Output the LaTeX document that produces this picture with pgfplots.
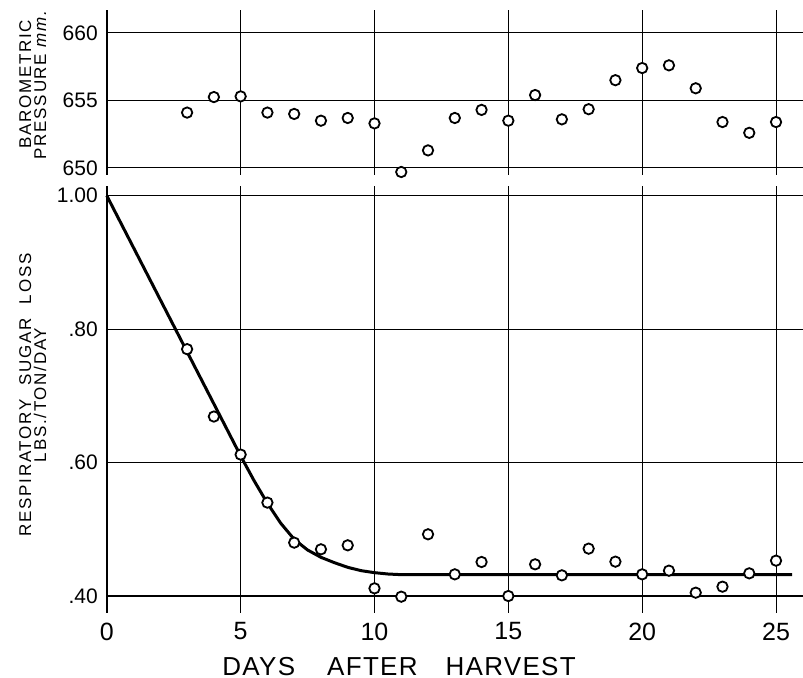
\documentclass[border=0pt]{standalone}
\usepackage{fontspec}
\setmainfont{Liberation Sans}
\newfontfamily\spaced[LetterSpace=10]{Liberation Sans}
\newfontfamily\wide[LetterSpace=5]{Liberation Sans}
\usepackage{pgfplots}
\pgfplotsset{compat=1.18}

\pgfplotsset{
  panel/.style={
    scale only axis, width=348pt, xmin=0, xmax=26,
    axis line style={draw=none},
    major tick length=0pt,
    grid=major,
    major grid style={black, line width=0.5pt},
    clip=false,
    /pgf/number format/assume math mode=true,
    yticklabel style={font=\fontsize{10.5}{11}\selectfont, xshift=-1pt},
    xticklabel style={font=\fontsize{12.5}{13}\selectfont, yshift=-1.5pt},
  },
  circ/.style={only marks, mark=*, mark size=2.6pt,
    mark options={draw=black, fill=white, line width=0.9pt}},
}

\begin{document}
\begin{tikzpicture}
\useasboundingbox (-53.4pt,-32.65pt) rectangle (348.1pt,306.35pt);

% barometric pressure
\begin{axis}[panel, at={(0,219pt)}, anchor=south west, height=82.35pt,
  ymin=649.5, ymax=661.7,
  xtick={5,10,15,20,25}, xticklabels={},
  ytick={650,655,660}, yticklabels={650,655,660},
  ylabel={BAROMETRIC\\PRESSURE \textit{mm.}},
  ylabel style={at={(rel axis cs:0,0.55)}, anchor=center, yshift=37pt,
    align=center, font=\spaced\fontsize{8.5}{7.5}\selectfont},
]
\draw[black, line width=0.8pt] (rel axis cs:0,0) -- (rel axis cs:0,1);
\addplot[circ] coordinates {
  (3,654.1) (4,655.25) (5,655.3) (6,654.1) (7,654.0) (8,653.5) (9,653.7)
  (10,653.3) (11,649.7) (12,651.3) (13,653.7) (14,654.3) (15,653.5)
  (16,655.4) (17,653.6) (18,654.35) (19,656.5) (20,657.4) (21,657.6)
  (22,655.9) (23,653.4) (24,652.6) (25,653.4)
};
\end{axis}

% respiratory sugar loss
\begin{axis}[panel, height=213.5pt,
  ymin=0.375, ymax=1.015,
  xtick={0,5,10,15,20,25},
  ytick={0.6,0.8,1.0}, yticklabels={.60,.80,1.00},
  extra y ticks={0.4}, extra y tick labels={.40},
  extra y tick style={major grid style={black, line width=1pt}},
  xlabel={DAYS\hspace{16pt}AFTER\hspace{14pt}HARVEST},
  xlabel style={at={(rel axis cs:0.42,0)}, anchor=center, yshift=-26.7pt,
    font=\wide\fontsize{13}{14}\selectfont},
  ylabel={RESPIRATORY\hspace{7pt}SUGAR\hspace{7pt}LOSS\\LBS./TON/DAY},
  ylabel style={at={(rel axis cs:0,0.51)}, anchor=center, yshift=37pt,
    align=center, font=\spaced\fontsize{8.5}{7.5}\selectfont},
]
\draw[black, line width=0.8pt] (rel axis cs:0,0) -- (rel axis cs:0,1);
\addplot[black, line width=1.5pt] coordinates {
  (0,1.0) (1,0.922) (2,0.844) (3,0.766) (4,0.688) (5,0.61) (5.5,0.573)
  (6,0.539) (6.5,0.509) (7,0.485) (7.5,0.469) (8,0.458) (8.5,0.450)
  (9,0.443) (9.5,0.438) (10,0.435) (10.5,0.433) (11,0.432) (25.6,0.432)
};
\addplot[circ] coordinates {
  (3,0.77) (4,0.669) (5,0.612) (6,0.54) (7,0.48) (8,0.47) (9,0.476)
  (10,0.4115) (11,0.399) (12,0.4925) (13,0.4325) (14,0.451) (15,0.40)
  (16,0.4475) (17,0.431) (18,0.471) (19,0.4515) (20,0.4325) (21,0.438)
  (22,0.405) (23,0.414) (24,0.434) (25,0.453)
};
\end{axis}
\end{tikzpicture}
\end{document}
